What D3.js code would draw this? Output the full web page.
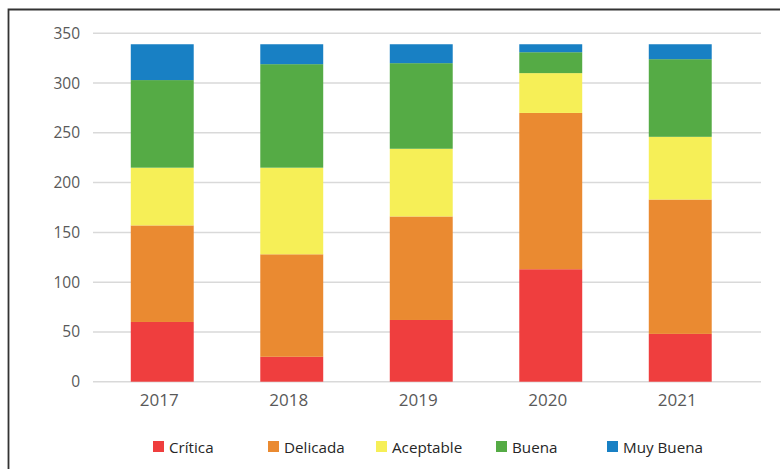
<!DOCTYPE html>
<html>
<head>
<meta charset="utf-8">
<script src="https://cdn.jsdelivr.net/npm/d3@7"></script>
<style>
  body { margin: 0; background: #fff; }
  svg text { font-family: "Open Sans", sans-serif; }
</style>
</head>
<body>
<div class="chart"></div>
<script>
// data
const years = ['2017', '2018', '2019', '2020', '2021'];
const seriesNames = ['Crítica', 'Delicada', 'Aceptable', 'Buena', 'Muy Buena'];
const critica = [60, 25, 62, 113, 48];
const delicada = [97, 103, 104, 157, 135];
const aceptable = [58, 87, 68, 40, 63];
const buena = [88, 104, 86, 21, 78];
const muyBuena = [36, 20, 19, 8, 15];
const yTicks = [0, 50, 100, 150, 200, 250, 300, 350];

const colors = ['#ef3e3e', '#ea8a31', '#f6ef57', '#55ab45', '#1880c4'];

const width = 780;
const height = 469;

const svg = d3.select('.chart')
  .append('svg')
  .attr('width', width)
  .attr('height', height);

// outer frame (runs off the bottom/right of the picture)
svg.append('path')
  .attr('d', 'M8.5,469 L8.5,9.5 L780,9.5')
  .attr('fill', 'none')
  .attr('stroke', '#333')
  .attr('stroke-width', 1.8);

const gridLeft = 93;
const gridRight = 761;

const table = years.map((yr, i) => ({
  year: yr,
  'Crítica': critica[i],
  'Delicada': delicada[i],
  'Aceptable': aceptable[i],
  'Buena': buena[i],
  'Muy Buena': muyBuena[i]
}));

const stack = d3.stack().keys(seriesNames);
const layers = stack(table);

const x = d3.scaleBand()
  .domain(years)
  .range([97.5, 745])
  .paddingInner(0.514)
  .paddingOuter(0.257);

const y = d3.scaleLinear()
  .domain([0, 350])
  .range([381.7, 33.3]);

const color = d3.scaleOrdinal().domain(seriesNames).range(colors);

// gridlines
svg.append('g')
  .selectAll('line')
  .data(yTicks)
  .enter()
  .append('line')
  .attr('x1', gridLeft)
  .attr('x2', gridRight)
  .attr('y1', d => y(d))
  .attr('y2', d => y(d))
  .attr('stroke', '#d9d9d9')
  .attr('stroke-width', 1.5);

// y axis labels
const yAxis = d3.axisLeft(y).tickValues(yTicks).tickSize(0).tickPadding(0);
const yAxisGroup = svg.append('g')
  .attr('transform', 'translate(80, 0)')
  .call(yAxis);
yAxisGroup.select('.domain').remove();
yAxisGroup.selectAll('text')
  .attr('fill', '#595959')
  .attr('font-size', '15.5px')
  .attr('font-family', '"Open Sans", sans-serif');

// bars
svg.append('g')
  .selectAll('g')
  .data(layers)
  .enter()
  .append('g')
  .attr('fill', d => color(d.key))
  .selectAll('rect')
  .data(d => d)
  .enter()
  .append('rect')
  .attr('x', d => x(d.data.year))
  .attr('width', x.bandwidth())
  .attr('y', d => y(d[1]))
  .attr('height', d => y(d[0]) - y(d[1]));

// x axis labels
const xAxis = d3.axisBottom(x).tickSize(0).tickPadding(0);
const xAxisGroup = svg.append('g')
  .attr('transform', 'translate(-3, 394)')
  .call(xAxis);
xAxisGroup.select('.domain').remove();
xAxisGroup.selectAll('text')
  .attr('fill', '#595959')
  .attr('font-size', '17px')
  .attr('font-family', '"Open Sans", sans-serif');

// legend
const legendX = [153, 268, 376, 496, 607];
const legend = svg.append('g')
  .selectAll('g')
  .data(seriesNames)
  .enter()
  .append('g')
  .attr('transform', (d, i) => `translate(${legendX[i]}, 441)`);

legend.append('rect')
  .attr('width', 11)
  .attr('height', 11)
  .attr('fill', d => color(d));

legend.append('text')
  .attr('x', 16)
  .attr('y', 11.5)
  .attr('fill', '#262626')
  .attr('font-size', '15.2px')
  .text(d => d);
</script>
</body>
</html>
